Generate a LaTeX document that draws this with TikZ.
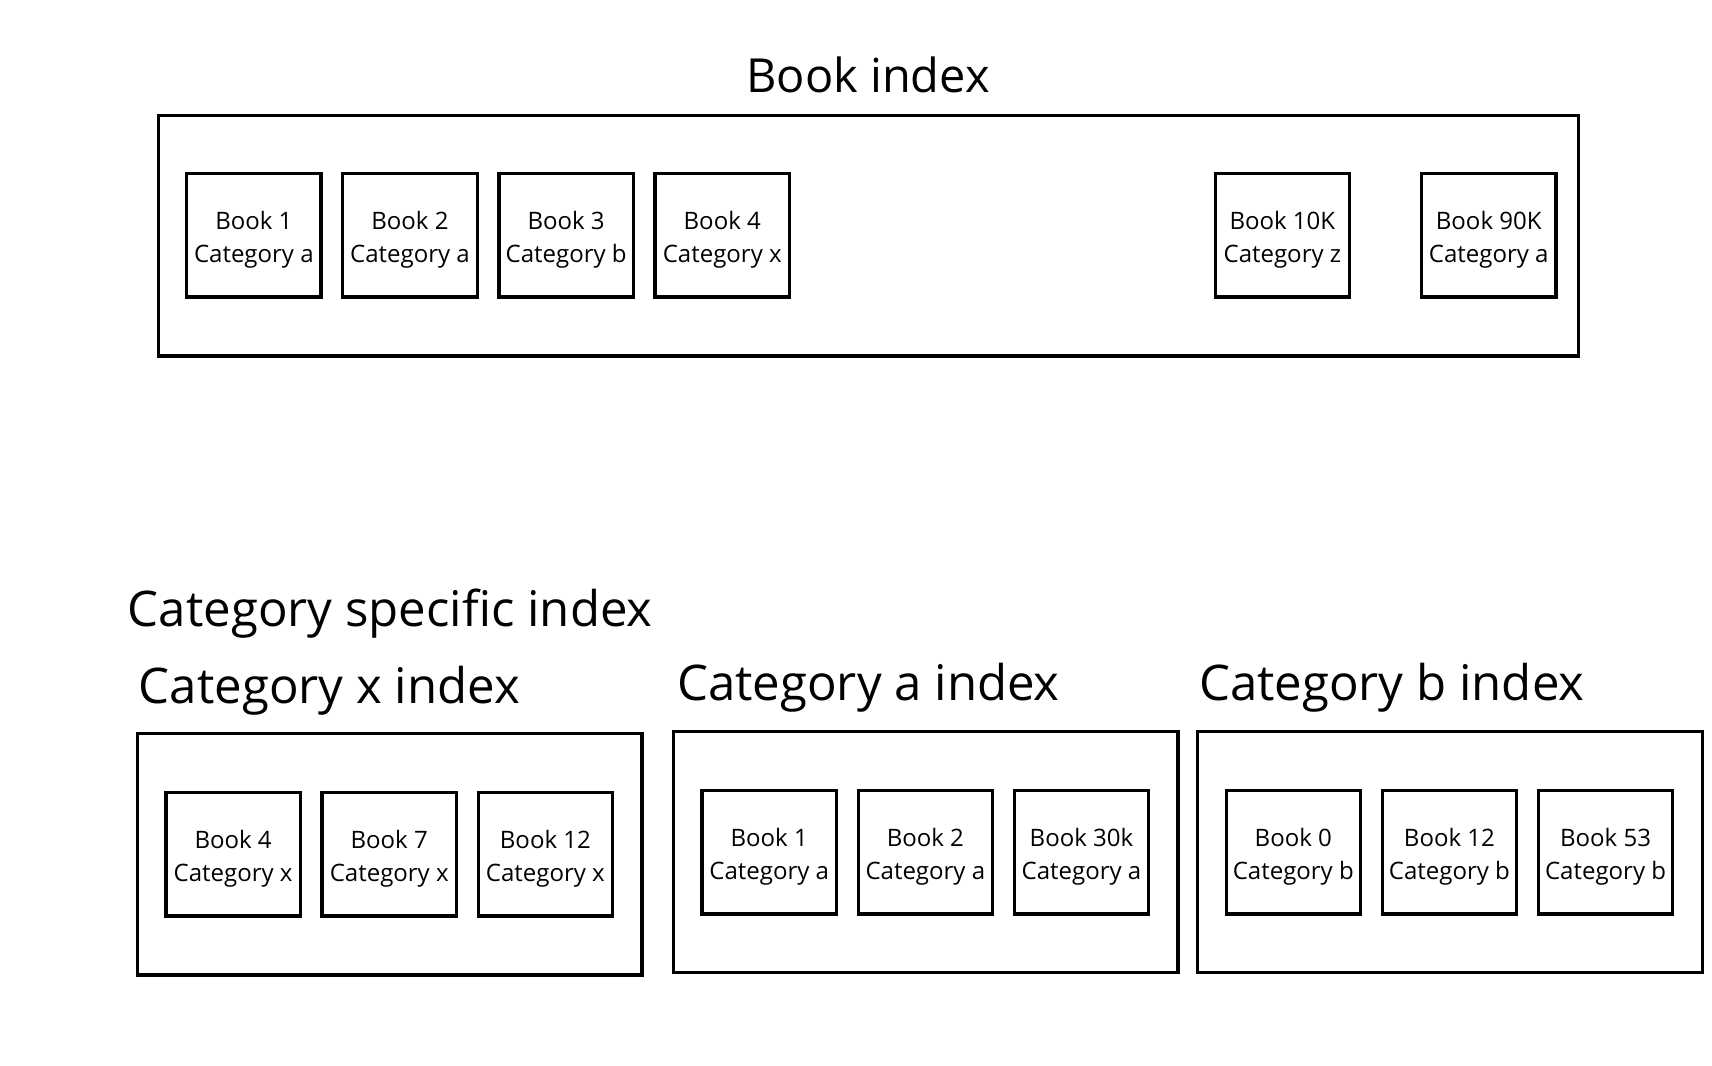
\documentclass[tikz,border=0pt]{standalone}
\usepackage{fontspec}
\setmainfont{Open Sans}
\newcommand\bktext[2]{\rule{0pt}{24.5pt}#1\\#2}
\begin{document}
\begin{tikzpicture}[x=1pt,y=-1pt,
  book/.style={draw, line width=3pt, minimum width=123pt, minimum height=113pt, inner sep=0pt, align=center, font=\fontsize{22}{30}\selectfont},
  container/.style={draw, line width=3pt, inner sep=0pt},
  title/.style={inner sep=0pt, font=\fontsize{45}{50}\selectfont}]
\useasboundingbox[fill=white] (0,0) rectangle (1568,976);
% Book index
\node[title, anchor=base, font=\fontsize{43}{50}\selectfont] (tbook) at (795,85) {Book index};
\node[container, minimum width=1301pt, minimum height=220pt] (bookidx) at (795.5,216) {};
\node[book] (b1) at (232.5,215.5) {\bktext{Book 1}{Category a}};
\node[book] (b2) at (375.5,215.5) {\bktext{Book 2}{Category a}};
\node[book] (b3) at (518.5,215.5) {\bktext{Book 3}{Category b}};
\node[book] (b4) at (661.5,215.5) {\bktext{Book 4}{Category x}};
\node[book] (b10k) at (1174.5,215.5) {\bktext{Book 10K}{Category z}};
\node[book] (b90k) at (1363.5,215.5) {\bktext{Book 90K}{Category a}};
% Category specific
\node[title, anchor=base west] (tcat) at (117,574) {Category specific index};
\node[title, anchor=base west] (tx) at (127,644) {Category x index};
\node[title, anchor=base west] (ta) at (620,642) {Category a index};
\node[title, anchor=base west] (tb) at (1098,642) {Category b index};
\node[container, minimum width=462pt, minimum height=221pt] (xidx) at (357,782.5) {};
\node[container, minimum width=462pt, minimum height=221pt] (aidx) at (848,780.5) {};
\node[container, minimum width=462pt, minimum height=221pt] (bidx) at (1328,780.5) {};
\node[book] (x1) at (213.5,782.5) {\bktext{Book 4}{Category x}};
\node[book] (x2) at (356.5,782.5) {\bktext{Book 7}{Category x}};
\node[book] (x3) at (499.5,782.5) {\bktext{Book 12}{Category x}};
\node[book] (a1) at (704.5,780.5) {\bktext{Book 1}{Category a}};
\node[book] (a2) at (847.5,780.5) {\bktext{Book 2}{Category a}};
\node[book] (a3) at (990.5,780.5) {\bktext{Book 30k}{Category a}};
\node[book] (c1) at (1184.5,780.5) {\bktext{Book 0}{Category b}};
\node[book] (c2) at (1327.5,780.5) {\bktext{Book 12}{Category b}};
\node[book] (c3) at (1470.5,780.5) {\bktext{Book 53}{Category b}};
\end{tikzpicture}
\end{document}
